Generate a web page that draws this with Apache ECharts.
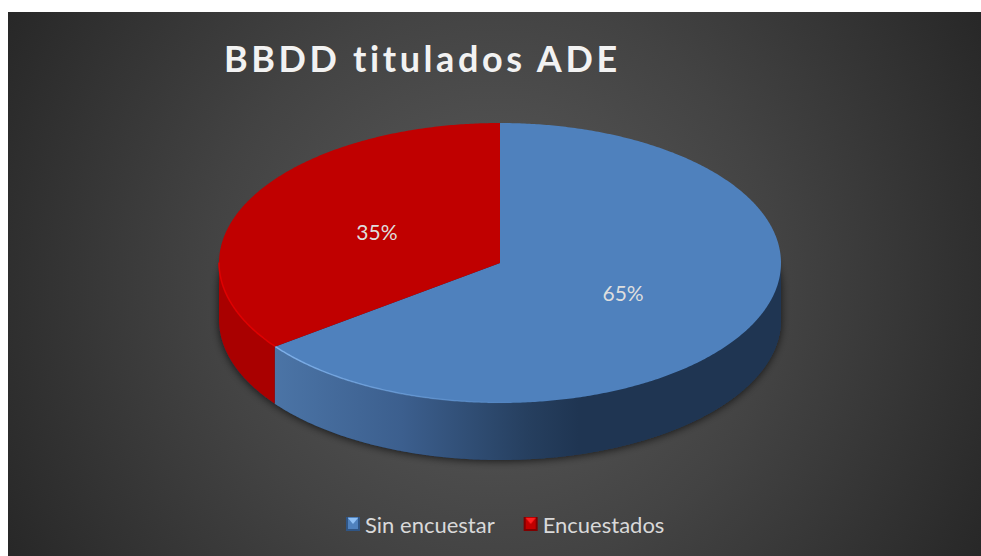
<!DOCTYPE html>
<html>
<head>
<meta charset="utf-8">
<style>
  html, body { margin: 0; padding: 0; background: #fff; }
  #chart { width: 981px; height: 556px; }
  /* title is spaced out in the original, canvas text can't do that */
  #chart text[style*="36px"] { letter-spacing: 3.6px; }
</style>
<script src="https://cdn.jsdelivr.net/npm/echarts@6/dist/echarts.min.js"></script>
</head>
<body>
<div id="chart"></div>
<script>
const titleText = "BBDD titulados ADE";
const categories = ["Sin encuestar", "Encuestados"];
const values = [64.8, 35.2];

const total = values[0] + values[1];
const cx = 500, cy = 263, rx = 281, ry = 140, depth = 57;

// angle t in degrees, clockwise from 12 o'clock
function pt(t, dy) {
  const a = (t * Math.PI) / 180;
  return [cx + rx * Math.sin(a), cy - ry * Math.cos(a) + (dy || 0)];
}
function arc(t0, t1, dy) {
  const pts = [];
  const n = Math.max(2, Math.ceil(Math.abs(t1 - t0) * 2));
  for (let i = 0; i <= n; i++) pts.push(pt(t0 + ((t1 - t0) * i) / n, dy));
  return pts;
}
function hg(x0, x1, stops) {
  // horizontal gradient in pixels
  return new echarts.graphic.LinearGradient(x0, 0, x1, 0, stops, true);
}

const split = (values[0] / total) * 360;
const styles = [
  {
    top: "#4f81bd",
    start: 0,
    end: split,
    wall: [90, split],
    wallFill: hg(275, 781, [
      { offset: 0, color: "#4b74a6" },
      { offset: 0.25, color: "#3c5f8e" },
      { offset: 0.5, color: "#263f5f" },
      { offset: 0.6, color: "#1f3552" },
      { offset: 1, color: "#1f3552" },
    ]),
    edge: [split - 62, split],
    edgeFill: hg(275, 520, [
      { offset: 0, color: "#7fb0ea" },
      { offset: 1, color: "rgba(127,176,234,0)" },
    ]),
  },
  {
    top: "#c00000",
    start: split,
    end: 360,
    wall: [split, 270],
    wallFill: "#a90000",
    edge: [split, 270],
    edgeFill: "#e00000",
  },
];

function iconFor(light, mid, dark) {
  const c = document.createElement("canvas");
  c.width = c.height = 14;
  const g = c.getContext("2d");
  g.fillStyle = mid;
  g.fillRect(0, 0, 14, 14);
  g.fillStyle = dark;
  g.fillRect(0, 0, 2, 14);
  g.fillRect(12, 0, 2, 14);
  g.fillRect(0, 12, 14, 2);
  g.fillStyle = light;
  g.beginPath();
  g.moveTo(2, 1);
  g.lineTo(12, 1);
  g.lineTo(7, 7);
  g.closePath();
  g.fill();
  return "image://" + c.toDataURL();
}

function renderSlice(idx) {
  return function (params, api) {
    const s = styles[idx];
    const v = api.value(0);
    const mid = (s.start + s.end) / 2;
    const lp = [cx + rx * 0.49 * Math.sin((mid * Math.PI) / 180), cy - ry * 0.49 * Math.cos((mid * Math.PI) / 180)];
    const children = [];
    if (idx === 0) {
      // soft shadow, only shows below the disc
      children.push({
        type: "polygon",
        shape: { points: arc(270, 450, 25).concat(arc(90, 270, depth)) },
        style: { fill: "#1f3552", shadowBlur: 8, shadowColor: "rgba(0,0,0,0.7)", shadowOffsetY: 1 },
      });
    }
    children.push({
      type: "polygon",
      shape: { points: arc(s.wall[0], s.wall[1], 0).concat(arc(s.wall[1], s.wall[0], depth)) },
      style: { fill: s.wallFill },
    });
    children.push({
      type: "polygon",
      shape: { points: [[cx, cy]].concat(arc(s.start, s.end, 0)) },
      style: { fill: s.top },
    });
    children.push({
      type: "polyline",
      shape: { points: arc(s.edge[0], s.edge[1], -0.5) },
      style: { fill: null, stroke: s.edgeFill, lineWidth: 1.5 },
    });
    children.push({
      type: "text",
      z2: 10,
      style: {
        x: lp[0],
        y: lp[1] - 1,
        text: Math.round((v / total) * 100) + "%",
        fill: "#dedede",
        font: "21px Lato",
        align: "center",
        verticalAlign: "middle",
      },
    });
    return { type: "group", children: children };
  };
}

const myChart = echarts.init(document.getElementById("chart"), null, { renderer: "svg" });
myChart.setOption({
  animation: false,
  backgroundColor: "#fff",
  title: {
    text: titleText,
    left: 219,
    top: 35,
    textStyle: { color: "#f2f2f2", fontFamily: "Lato", fontWeight: "bold", fontSize: 36 },
  },
  legend: {
    left: 341,
    top: 508,
    itemWidth: 14,
    itemHeight: 14,
    itemGap: 29,
    data: [
      { name: categories[0], icon: iconFor("#8fc0f5", "#4f81bd", "#2f5585") },
      { name: categories[1], icon: iconFor("#ff2020", "#c00000", "#800000") },
    ],
    textStyle: { color: "#d9d9d9", fontFamily: "Lato", fontSize: 22 },
  },
  graphic: [
    {
      type: "rect",
      z: -1,
      silent: true,
      shape: { x: 8, y: 12, width: 973, height: 544 },
      style: {
        fill: new echarts.graphic.RadialGradient(494, 284, 571, [
          { offset: 0, color: "#5c5c5c" },
          { offset: 0.5, color: "#434343" },
          { offset: 1, color: "#262626" },
        ], true),
      },
    },
  ],
  series: [
    {
      type: "custom",
      name: categories[0],
      coordinateSystem: "none",
      itemStyle: { color: "#4f81bd" },
      renderItem: renderSlice(0),
      data: [[values[0]]],
    },
    {
      type: "custom",
      name: categories[1],
      coordinateSystem: "none",
      itemStyle: { color: "#c00000" },
      renderItem: renderSlice(1),
      data: [[values[1]]],
    },
  ],
});
</script>
</body>
</html>
